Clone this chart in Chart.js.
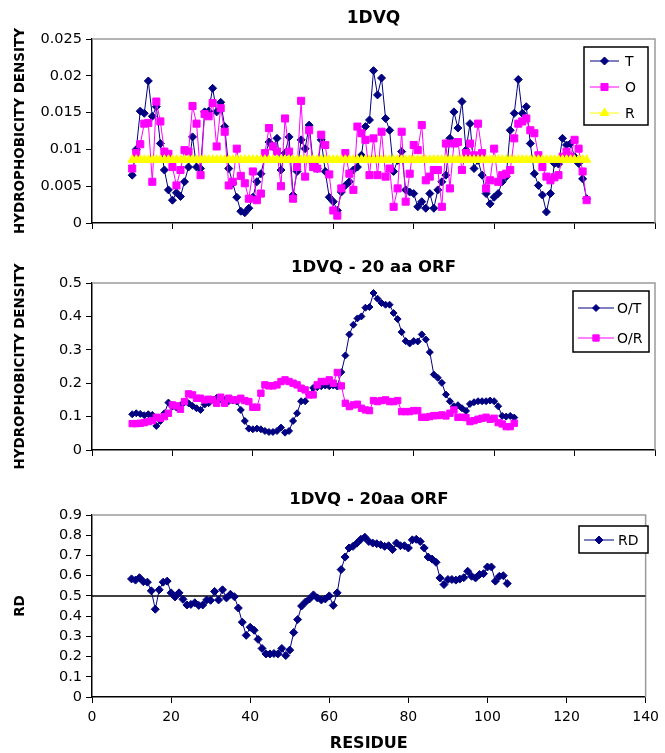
<!DOCTYPE html>
<html>
<head>
<meta charset="utf-8">
<script src="https://cdn.jsdelivr.net/npm/chart.js@4.4.1/dist/chart.umd.min.js"></script>
<style>
  html, body { margin: 0; padding: 0; background: #fff; overflow: hidden; }
  .panel { position: absolute; left: 0; width: 665px; }
</style>
</head>
<body>
<div class="panel" style="top:0"><canvas id="chartTop" width="665" height="240"></canvas></div>
<div class="panel" style="top:240px"><canvas id="chartMid" width="665" height="230"></canvas></div>
<div class="panel" style="top:470px"><canvas id="chartBottom" width="665" height="283"></canvas></div>
<script>
// residues for the top panel (10..123)
const residuesTop = [
  10, 11, 12, 13, 14, 15, 16, 17, 18, 19, 20, 21, 22, 23, 24, 25, 26, 27, 28, 29,
  30, 31, 32, 33, 34, 35, 36, 37, 38, 39, 40, 41, 42, 43, 44, 45, 46, 47, 48, 49,
  50, 51, 52, 53, 54, 55, 56, 57, 58, 59, 60, 61, 62, 63, 64, 65, 66, 67, 68, 69,
  70, 71, 72, 73, 74, 75, 76, 77, 78, 79, 80, 81, 82, 83, 84, 85, 86, 87, 88, 89,
  90, 91, 92, 93, 94, 95, 96, 97, 98, 99, 100, 101, 102, 103, 104, 105, 106, 107, 108, 109,
  110, 111, 112, 113, 114, 115, 116, 117, 118, 119, 120, 121, 122, 123
];

const seriesT = [
  0.0065, 0.0100, 0.0152, 0.0149, 0.0193, 0.0145, 0.0158, 0.0108, 0.0072, 0.0045,
  0.0031, 0.0041, 0.0036, 0.0056, 0.0076, 0.0117, 0.0076, 0.0074, 0.0151, 0.0152,
  0.0183, 0.0151, 0.0164, 0.0131, 0.0074, 0.0054, 0.0035, 0.0016, 0.0014, 0.0020,
  0.0035, 0.0056, 0.0067, 0.0090, 0.0110, 0.0104, 0.0115, 0.0072, 0.0095, 0.0117,
  0.0038, 0.0070, 0.0113, 0.0101, 0.0133, 0.0081, 0.0074, 0.0113, 0.0070, 0.0035,
  0.0029, 0.0017, 0.0042, 0.0051, 0.0056, 0.0072, 0.0076, 0.0092, 0.0131, 0.0140,
  0.0207, 0.0174, 0.0197, 0.0142, 0.0126, 0.0070, 0.0085, 0.0097, 0.0045, 0.0042,
  0.0040, 0.0022, 0.0029, 0.0020, 0.0040, 0.0020, 0.0045, 0.0056, 0.0065, 0.0115,
  0.0151, 0.0129, 0.0165, 0.0099, 0.0135, 0.0074, 0.0085, 0.0065, 0.0040, 0.0026,
  0.0035, 0.0040, 0.0056, 0.0063, 0.0126, 0.0149, 0.0195, 0.0149, 0.0158, 0.0108,
  0.0067, 0.0051, 0.0038, 0.0015, 0.0040, 0.0081, 0.0080, 0.0115, 0.0106, 0.0108,
  0.0090, 0.0081, 0.0060, 0.0033
];

const seriesO = [
  0.0074, 0.0095, 0.0107, 0.0135, 0.0136, 0.0056, 0.0165, 0.0138, 0.0097, 0.0094,
  0.0076, 0.0051, 0.0072, 0.0099, 0.0097, 0.0159, 0.0135, 0.0065, 0.0148, 0.0145,
  0.0163, 0.0104, 0.0156, 0.0124, 0.0051, 0.0056, 0.0101, 0.0064, 0.0054, 0.0033,
  0.0070, 0.0031, 0.0040, 0.0095, 0.0129, 0.0104, 0.0097, 0.0050, 0.0142, 0.0097,
  0.0033, 0.0076, 0.0166, 0.0063, 0.0126, 0.0076, 0.0074, 0.0120, 0.0106, 0.0066,
  0.0017, 0.0010, 0.0047, 0.0095, 0.0067, 0.0045, 0.0131, 0.0122, 0.0113, 0.0065,
  0.0115, 0.0065, 0.0124, 0.0063, 0.0074, 0.0022, 0.0047, 0.0124, 0.0029, 0.0067,
  0.0106, 0.0099, 0.0133, 0.0058, 0.0063, 0.0072, 0.0072, 0.0022, 0.0108, 0.0047,
  0.0108, 0.0110, 0.0072, 0.0095, 0.0108, 0.0092, 0.0135, 0.0095, 0.0047, 0.0058,
  0.0101, 0.0056, 0.0065, 0.0067, 0.0072, 0.0115, 0.0135, 0.0138, 0.0142,
  0.0126, 0.0122, 0.0092, 0.0076, 0.0063, 0.0058, 0.0062, 0.0065, 0.0090, 0.0097,
  0.0090, 0.0113, 0.0101, 0.0070, 0.0031
];

// R is flat across the whole window
const seriesRValue = 0.0086;

// residues for the two ORF panels (10..105)
const residuesOrf = [
  10, 11, 12, 13, 14, 15, 16, 17, 18, 19, 20, 21, 22, 23, 24, 25, 26, 27, 28, 29,
  30, 31, 32, 33, 34, 35, 36, 37, 38, 39, 40, 41, 42, 43, 44, 45, 46, 47, 48, 49,
  50, 51, 52, 53, 54, 55, 56, 57, 58, 59, 60, 61, 62, 63, 64, 65, 66, 67, 68, 69,
  70, 71, 72, 73, 74, 75, 76, 77, 78, 79, 80, 81, 82, 83, 84, 85, 86, 87, 88, 89,
  90, 91, 92, 93, 94, 95, 96, 97, 98, 99, 100, 101, 102, 103, 104, 105
];

const seriesOT = [
  0.107, 0.110, 0.108, 0.104, 0.107, 0.105, 0.072, 0.087, 0.110, 0.142,
  0.130, 0.127, 0.134, 0.143, 0.140, 0.132, 0.125, 0.120, 0.136, 0.140,
  0.151, 0.156, 0.152, 0.150, 0.146, 0.148, 0.145, 0.120, 0.087, 0.064,
  0.062, 0.064, 0.062, 0.057, 0.054, 0.054, 0.057, 0.067, 0.052, 0.057,
  0.087, 0.110, 0.146, 0.146, 0.166, 0.186, 0.188, 0.191, 0.193, 0.191,
  0.193, 0.190, 0.233, 0.283, 0.346, 0.375, 0.394, 0.400, 0.426, 0.428,
  0.470, 0.453, 0.440, 0.435, 0.435, 0.410, 0.392, 0.353, 0.326, 0.319,
  0.326, 0.325, 0.346, 0.331, 0.293, 0.226, 0.216, 0.201, 0.166, 0.146,
  0.131, 0.134, 0.125, 0.117, 0.138, 0.143, 0.146, 0.146, 0.146, 0.148,
  0.146, 0.131, 0.102, 0.100, 0.102, 0.097
];

const seriesOR = [
  0.079, 0.079, 0.080, 0.082, 0.085, 0.088, 0.098, 0.095, 0.100, 0.110,
  0.135, 0.132, 0.122, 0.145, 0.168, 0.165, 0.155, 0.155, 0.150, 0.152,
  0.150, 0.140, 0.158, 0.140, 0.155, 0.150, 0.150, 0.155, 0.148, 0.145,
  0.128, 0.128, 0.170, 0.195, 0.192, 0.192, 0.195, 0.205, 0.210, 0.205,
  0.200, 0.195, 0.185, 0.180, 0.165, 0.165, 0.195, 0.205, 0.205, 0.210,
  0.200, 0.232, 0.192, 0.140, 0.130, 0.135, 0.137, 0.125, 0.120, 0.118,
  0.148, 0.145, 0.148, 0.150, 0.145, 0.145, 0.148, 0.115, 0.115, 0.115,
  0.118, 0.118, 0.098, 0.098, 0.100, 0.103, 0.103, 0.105, 0.102, 0.110,
  0.120, 0.098, 0.098, 0.097, 0.085, 0.088, 0.092, 0.095, 0.098, 0.092,
  0.095, 0.082, 0.078, 0.070, 0.070, 0.080
];

const seriesRD = [
  0.584, 0.578, 0.590, 0.570, 0.568, 0.525, 0.434, 0.530, 0.568, 0.573,
  0.515, 0.495, 0.515, 0.483, 0.455, 0.458, 0.466, 0.453, 0.455, 0.480,
  0.478, 0.522, 0.480, 0.530, 0.490, 0.508, 0.496, 0.440, 0.370, 0.305,
  0.345, 0.330, 0.285, 0.240, 0.213, 0.213, 0.215, 0.213, 0.240, 0.205,
  0.232, 0.319, 0.383, 0.450, 0.470, 0.485, 0.505, 0.490, 0.480, 0.485,
  0.500, 0.453, 0.515, 0.630, 0.692, 0.737, 0.745, 0.761, 0.780, 0.790,
  0.769, 0.761, 0.758, 0.753, 0.745, 0.748, 0.729, 0.761, 0.748, 0.748,
  0.737, 0.777, 0.780, 0.769, 0.737, 0.692, 0.682, 0.666, 0.589, 0.556,
  0.581, 0.581, 0.578, 0.583, 0.590, 0.622, 0.597, 0.589, 0.606, 0.610,
  0.643, 0.643, 0.573, 0.597, 0.600, 0.561
];

const rdThreshold = 0.5;
const residueRange = [0, 140];

// tick labels as printed on the axes
const yTicksTop = ['0', '0.005', '0.01', '0.015', '0.02', '0.025'];
const yTicksMid = ['0', '0.1', '0.2', '0.3', '0.4', '0.5'];
const yTicksBottom = ['0', '0.1', '0.2', '0.3', '0.4', '0.5', '0.6', '0.7', '0.8', '0.9'];
const xTicks = ['0', '20', '40', '60', '80', '100', '120', '140'];

const FONT = '"DejaVu Sans", Verdana, sans-serif';
const NAVY = '#000080';
const MAGENTA = '#ff00ff';
const YELLOW = '#ffff00';

function points(xs, ys) {
  return xs.map((x, i) => ({ x, y: ys[i] }));
}

// gray frame on top and right of the plot area, like Excel
const plotFrame = {
  id: 'plotFrame',
  beforeDatasetsDraw(chart) {
    const { ctx, chartArea: a } = chart;
    ctx.save();
    ctx.strokeStyle = '#9a9a9a';
    ctx.lineWidth = 1.5;
    ctx.beginPath();
    ctx.moveTo(a.left, a.top);
    ctx.lineTo(a.right, a.top);
    ctx.lineTo(a.right, a.bottom);
    ctx.stroke();
    ctx.restore();
  }
};

// chart title centred over the plot area (Excel style)
const plotTitle = {
  id: 'plotTitle',
  afterDraw(chart, args, opts) {
    const { ctx, chartArea: a } = chart;
    ctx.save();
    ctx.fillStyle = '#000';
    ctx.font = 'bold ' + opts.size + 'px ' + FONT;
    ctx.textAlign = 'center';
    ctx.textBaseline = 'middle';
    ctx.fillText(opts.text, (a.left + a.right) / 2, opts.y);
    ctx.restore();
  }
};

// boxed legend inside the plot
const boxLegend = {
  id: 'boxLegend',
  afterDraw(chart, args, opts) {
    if (!opts || !opts.box) return;
    const ctx = chart.ctx;
    const b = opts.box;
    ctx.save();
    ctx.fillStyle = '#fff';
    ctx.fillRect(b.x, b.y, b.w, b.h);
    ctx.strokeStyle = '#000';
    ctx.lineWidth = 1.5;
    ctx.strokeRect(b.x, b.y, b.w, b.h);
    const items = chart.data.datasets.filter(d => !d.noLegend);
    items.forEach((ds, i) => {
      const cy = b.y + opts.first + i * opts.step;
      ctx.strokeStyle = ds.borderColor;
      ctx.lineWidth = ds.borderWidth;
      ctx.beginPath();
      ctx.moveTo(opts.lineFrom, cy);
      ctx.lineTo(opts.lineTo, cy);
      ctx.stroke();
      ctx.fillStyle = ds.pointBackgroundColor;
      ctx.strokeStyle = ds.pointBorderColor;
      Chart.helpers.drawPoint(ctx, {
        pointStyle: ds.pointStyle, rotation: 0,
        radius: ds.pointRadius, borderWidth: 1
      }, (opts.lineFrom + opts.lineTo) / 2, cy);
      ctx.fillStyle = '#000';
      ctx.font = '14px ' + FONT;
      ctx.textBaseline = 'middle';
      ctx.textAlign = 'left';
      ctx.fillText(ds.label, opts.textX, cy + 1);
    });
    ctx.restore();
  }
};

function makeOptions(cfg) {
  return {
    responsive: false,
    animation: false,
    layout: { padding: { left: 0, right: 10, top: cfg.plotTop, bottom: 0 } },
    plugins: {
      legend: { display: false },
      tooltip: { enabled: false },
      title: { display: false },
      plotTitle: cfg.title,
      boxLegend: cfg.legend
    },
    scales: {
      x: {
        type: 'linear',
        min: residueRange[0],
        max: residueRange[1],
        afterFit: s => { s.height = cfg.xHeight; },
        border: { display: true, color: '#000', width: 1.5 },
        grid: { drawOnChartArea: false, drawTicks: true, tickLength: 6, color: '#000', lineWidth: 1 },
        ticks: {
          display: cfg.xLabels,
          stepSize: 20,
          autoSkip: false,
          color: '#000',
          padding: 6,
          maxRotation: 0,
          font: { family: FONT, size: 14 },
          callback: (v, i) => xTicks[i]
        },
        title: {
          display: !!cfg.xTitle,
          text: cfg.xTitle || '',
          color: '#000',
          font: { family: FONT, size: 16, weight: 'bold' },
          padding: { top: 0, bottom: 0 }
        }
      },
      y: {
        min: 0,
        max: cfg.yMax,
        afterFit: s => { s.width = 92; },
        border: { display: true, color: '#000', width: 1.5 },
        grid: { drawOnChartArea: false, drawTicks: true, tickLength: 6, color: '#000', lineWidth: 1 },
        ticks: {
          stepSize: cfg.yStep,
          autoSkip: false,
          color: '#000',
          padding: 4,
          font: { family: FONT, size: 14.5 },
          callback: (v, i) => cfg.yTicks[i]
        },
        title: {
          display: true,
          text: cfg.yTitle,
          color: '#000',
          font: { family: FONT, size: 13.5, weight: 'bold' },
          padding: { top: 12, bottom: 0 }
        }
      }
    }
  };
}

function lineSet(label, xs, ys, color, style, radius, order) {
  return {
    label,
    data: points(xs, ys),
    borderColor: color,
    backgroundColor: color,
    borderWidth: 1,
    pointStyle: style,
    pointRadius: radius,
    pointBackgroundColor: color,
    pointBorderColor: color,
    pointBorderWidth: 1,
    tension: 0,
    order
  };
}

new Chart(document.getElementById('chartTop'), {
  type: 'line',
  data: {
    datasets: [
      lineSet('T', residuesTop, seriesT, NAVY, 'rectRot', 4, 3),
      lineSet('O', residuesTop, seriesO, MAGENTA, 'rect', 5, 2),
      lineSet('R', residuesTop, residuesTop.map(() => seriesRValue), YELLOW, 'triangle', 5, 1)
    ]
  },
  options: makeOptions({
    title: { text: '1DVQ', y: 19, size: 17 }, plotTop: 39,
    yMax: 0.025, yStep: 0.005, yTicks: yTicksTop, yTitle: 'HYDROPHOBICITY DENSITY',
    xHeight: 17, xLabels: false,
    legend: { box: { x: 584, y: 47, w: 64, h: 78 }, first: 14, step: 26, lineFrom: 590, lineTo: 619, textX: 625 }
  }),
  plugins: [plotFrame, plotTitle, boxLegend]
});

new Chart(document.getElementById('chartMid'), {
  type: 'line',
  data: {
    datasets: [
      lineSet('O/T', residuesOrf, seriesOT, NAVY, 'rectRot', 3.5, 2),
      lineSet('O/R', residuesOrf, seriesOR, MAGENTA, 'rect', 4.5, 1)
    ]
  },
  options: makeOptions({
    title: { text: '1DVQ - 20 aa ORF', y: 28, size: 16.5 }, plotTop: 43,
    yMax: 0.5, yStep: 0.1, yTicks: yTicksMid, yTitle: 'HYDROPHOBICITY DENSITY',
    xHeight: 20, xLabels: false,
    legend: { box: { x: 573, y: 51, w: 76, h: 61 }, first: 17, step: 30, lineFrom: 578, lineTo: 614, textX: 617 }
  }),
  plugins: [plotFrame, plotTitle, boxLegend]
});

new Chart(document.getElementById('chartBottom'), {
  type: 'line',
  data: {
    datasets: [
      lineSet('RD', residuesOrf, seriesRD, NAVY, 'rectRot', 4, 2),
      {
        label: 'threshold',
        noLegend: true,
        data: residueRange.map(x => ({ x, y: rdThreshold })),
        borderColor: '#000',
        borderWidth: 1.5,
        pointRadius: 0,
        order: 3
      }
    ]
  },
  options: makeOptions({
    title: { text: '1DVQ - 20aa ORF', y: 30, size: 16.5 }, plotTop: 45,
    yMax: 0.9, yStep: 0.1, yTicks: yTicksBottom, yTitle: 'RD',
    xHeight: 56, xLabels: true, xTitle: 'RESIDUE',
    legend: { box: { x: 579, y: 56, w: 69, h: 27 }, first: 14, step: 26, lineFrom: 584, lineTo: 614, textX: 618 }
  }),
  plugins: [plotFrame, plotTitle, boxLegend]
});
</script>
</body>
</html>
